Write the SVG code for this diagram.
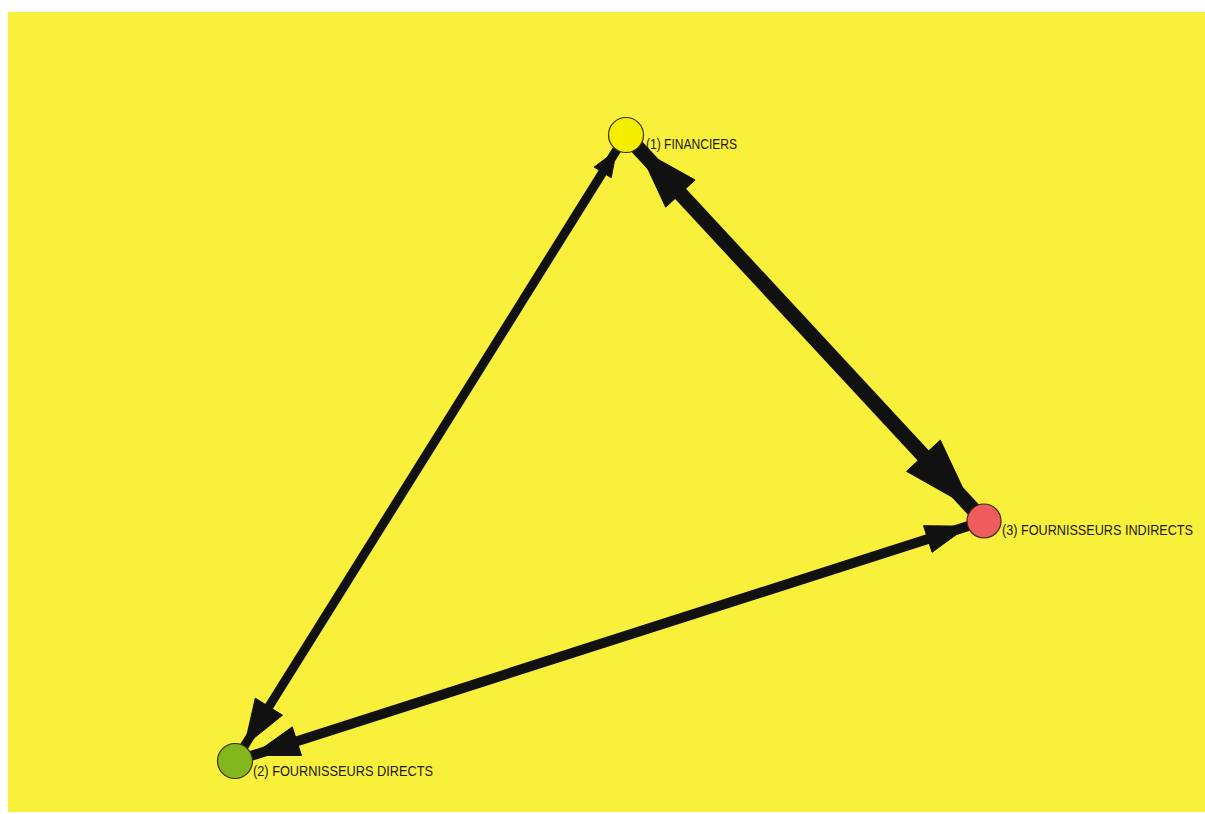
<svg xmlns="http://www.w3.org/2000/svg" width="1205" height="814" viewBox="0 0 1205 814">
<style>
.edge{stroke:#111;stroke-linecap:butt;fill:none}
.head{fill:#111;stroke:#111;stroke-width:1;stroke-linejoin:miter}
.node{stroke:#3a2a10;stroke-width:1.2}
.lbl{font-family:"Liberation Sans",Arial,sans-serif;font-size:14px;fill:#1a1a1a}
</style>
<rect x="0" y="0" width="1205" height="814" fill="#ffffff"/>
<rect x="8" y="12" width="1197" height="800" fill="#f9f03c"/>
<g id="connectors">
<line class="edge" x1="626" y1="135" x2="235" y2="761" stroke-width="9"/>
<polygon class="head" points="616.5,150.3 611.2,177.7 594.2,167.1"/>
<polygon class="head" points="244.5,745.7 282.5,715.2 255.3,698.2"/>
<line class="edge" x1="626" y1="135" x2="984" y2="521" stroke-width="15"/>
<polygon class="head" points="638.2,148.2 695.1,180 665.7,207.2"/>
<polygon class="head" points="972.4,508.5 940.3,440.1 906.5,471.3"/>
<line class="edge" x1="235" y1="761" x2="984" y2="521" stroke-width="10"/>
<polygon class="head" points="967.8,526.2 932.1,552.3 923.5,525.7"/>
<polygon class="head" points="252.1,755.5 301.5,755.5 292.3,726.9"/>
</g>
<g id="node1">
<circle class="node" cx="626" cy="135" r="17.5" fill="#f4ee00"/>
<text class="lbl" x="646" y="149" textLength="91" lengthAdjust="spacingAndGlyphs">(1) FINANCIERS</text>
</g>
<g id="node2">
<circle class="node" cx="235" cy="761" r="17.5" fill="#82b81c"/>
<text class="lbl" x="253" y="776" textLength="180" lengthAdjust="spacingAndGlyphs">(2) FOURNISSEURS DIRECTS</text>
</g>
<g id="node3">
<circle class="node" cx="984" cy="521" r="17" fill="#ee5c5e"/>
<text class="lbl" x="1002" y="535" textLength="191" lengthAdjust="spacingAndGlyphs">(3) FOURNISSEURS INDIRECTS</text>
</g>
</svg>
